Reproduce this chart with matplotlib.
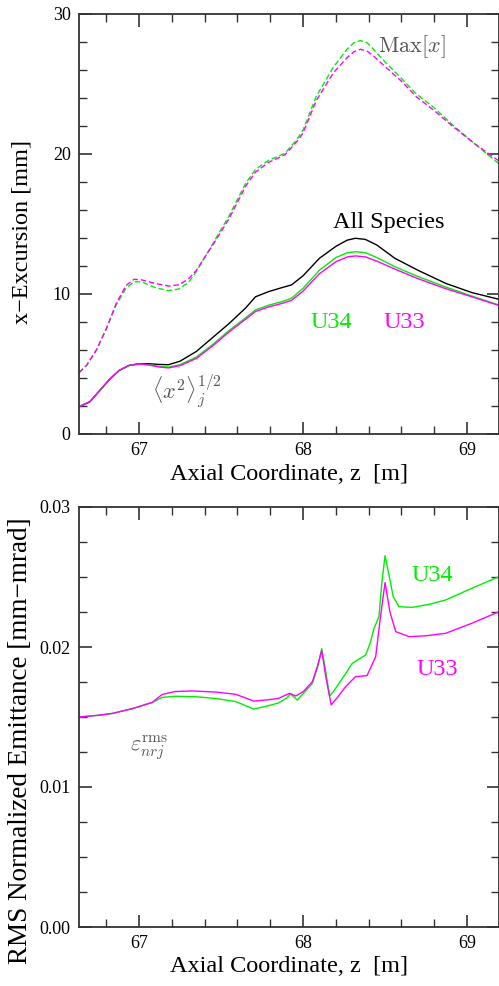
import numpy as np
import matplotlib
matplotlib.use("Agg")
import matplotlib.pyplot as plt
from matplotlib.ticker import MultipleLocator, FormatStrFormatter

plt.rcParams['font.family'] = ['Liberation Serif', 'DejaVu Serif']
plt.rcParams['mathtext.fontset'] = 'cm'

GREEN = '#00ee00'
MAGENTA = '#ff00ff'
GRAY = '#555555'

# top panel: rms and max x-excursion [mm]
z_rms = [66.634, 66.70, 66.76, 66.82, 66.88, 66.94, 67.00, 67.06, 67.12, 67.18, 67.25,
         67.35, 67.45, 67.55, 67.65, 67.71, 67.79, 67.87, 67.93, 68.00, 68.10, 68.20,
         68.27, 68.32, 68.38, 68.45, 68.56, 68.70, 68.87, 69.03, 69.195]
rms_all = [1.95, 2.3, 3.1, 3.9, 4.55, 4.9, 5.02, 5.02, 4.97, 4.95, 5.2, 5.9, 6.9, 7.9,
           9.0, 9.8, 10.17, 10.45, 10.65, 11.3, 12.55, 13.4, 13.85, 13.98, 13.9, 13.5,
           12.55, 11.7, 10.76, 10.1, 9.62]
rms_u34 = [1.95, 2.3, 3.1, 3.9, 4.55, 4.9, 5.0, 4.95, 4.83, 4.78, 4.95, 5.5, 6.4, 7.4,
           8.3, 8.86, 9.2, 9.45, 9.7, 10.4, 11.7, 12.6, 12.95, 13.02, 12.95, 12.6,
           11.95, 11.25, 10.5, 9.85, 9.21]
rms_u33 = [1.95, 2.3, 3.1, 3.9, 4.55, 4.9, 5.0, 4.93, 4.79, 4.72, 4.88, 5.4, 6.3, 7.3,
           8.2, 8.75, 9.08, 9.32, 9.55, 10.2, 11.45, 12.3, 12.65, 12.72, 12.65, 12.35,
           11.78, 11.1, 10.38, 9.8, 9.18]

z_max = [66.634, 66.68, 66.74, 66.80, 66.86, 66.92, 66.97, 67.02, 67.10, 67.18, 67.24,
         67.30, 67.35, 67.45, 67.55, 67.65, 67.71, 67.79, 67.89, 67.96, 68.00, 68.08,
         68.185, 68.27, 68.31, 68.35, 68.39, 68.42, 68.49, 68.60, 68.69, 68.80, 68.90,
         69.05, 69.195]
max_u34 = [4.38, 4.9, 6.0, 7.5, 9.2, 10.4, 10.88, 10.85, 10.45, 10.24, 10.35, 10.8, 11.6,
           13.6, 15.6, 17.9, 18.9, 19.55, 20.05, 21.0, 21.7, 24.1, 26.2, 27.5, 27.95,
           28.1, 27.95, 27.6, 26.7, 25.4, 24.3, 23.3, 22.2, 20.7, 19.3]
max_u33 = [4.38, 4.9, 6.0, 7.5, 9.3, 10.6, 11.05, 11.0, 10.75, 10.57, 10.65, 11.05, 11.7,
           13.5, 15.4, 17.7, 18.7, 19.4, 19.95, 20.85, 21.5, 23.8, 25.8, 26.9, 27.3,
           27.48, 27.35, 27.1, 26.36, 25.2, 24.1, 23.1, 22.1, 20.7, 19.5]

# bottom panel: rms normalized emittance [mm-mrad]
z_em34 = [66.634, 66.75, 66.84, 66.96, 67.08, 67.14, 67.22, 67.345, 67.47, 67.59, 67.70,
          67.78, 67.85, 67.90, 67.925, 67.965, 68.00, 68.057, 68.09, 68.114, 68.135,
          68.162, 68.19, 68.219, 68.26, 68.30, 68.35, 68.382, 68.41, 68.433, 68.463,
          68.48, 68.50, 68.52, 68.55, 68.585, 68.667, 68.77, 68.87, 69.03, 69.195]
em_u34 = [0.0150, 0.01512, 0.01526, 0.0156, 0.01602, 0.0164, 0.01648, 0.01645, 0.01632,
          0.0161, 0.01557, 0.01578, 0.0160, 0.01635, 0.01664, 0.01621, 0.01665, 0.0174,
          0.0186, 0.01988, 0.0185, 0.0165, 0.0169, 0.0174, 0.0181, 0.01883, 0.0192,
          0.01943, 0.0203, 0.02133, 0.02217, 0.0245, 0.02652, 0.0254, 0.0236, 0.02288,
          0.02283, 0.02305, 0.02336, 0.0242, 0.02502]
z_em33 = [66.634, 66.75, 66.84, 66.96, 67.08, 67.14, 67.22, 67.325, 67.47, 67.59, 67.70,
          67.78, 67.85, 67.918, 67.955, 68.00, 68.057, 68.09, 68.114, 68.14, 68.172,
          68.21, 68.26, 68.32, 68.365, 68.39, 68.443, 68.47, 68.50, 68.53, 68.565,
          68.646, 68.75, 68.87, 69.03, 69.195]
em_u33 = [0.0150, 0.01512, 0.01526, 0.0156, 0.01605, 0.0166, 0.01682, 0.01686, 0.01678,
          0.01662, 0.01614, 0.01622, 0.01633, 0.01669, 0.0165, 0.0168, 0.01752, 0.0187,
          0.01974, 0.0178, 0.01586, 0.0164, 0.01717, 0.01788, 0.01793, 0.01795, 0.01931,
          0.02193, 0.0246, 0.0225, 0.0211, 0.02074, 0.0208, 0.02098, 0.0217, 0.02252]

fig = plt.figure(figsize=(4.99, 9.86), dpi=100)
ax1 = fig.add_axes([79/499, 1-434/986, 420/499, 420/986])
ax2 = fig.add_axes([79/499, 1-927/986, 420/499, 420/986])


def style(ax):
    ax.set_xlim(66.634, 69.195)
    ax.xaxis.set_major_locator(MultipleLocator(1))
    ax.xaxis.set_minor_locator(MultipleLocator(0.2))
    ax.tick_params(which='both', direction='in', top=True, right=True, labelsize=13,
                   color='#333333', pad=6)
    ax.tick_params(which='major', length=9, width=1.2)
    ax.tick_params(which='minor', length=6, width=1.0)
    for s in ax.spines.values():
        s.set_color('#333333')
        s.set_linewidth(1.3)
    ax.set_xlabel('Axial Coordinate, z  [m]', fontsize=17.5, labelpad=3)


ax1.plot(z_max, max_u34, color=GREEN, lw=1, dashes=(4, 2))
ax1.plot(z_max, max_u33, color=MAGENTA, lw=1, dashes=(4, 2))
ax1.plot(z_rms, rms_all, color='black', lw=1)
ax1.plot(z_rms, rms_u34, color=GREEN, lw=1)
ax1.plot(z_rms, rms_u33, color=MAGENTA, lw=1)
style(ax1)
ax1.set_ylim(0, 30)
ax1.yaxis.set_major_locator(MultipleLocator(10))
ax1.yaxis.set_minor_locator(MultipleLocator(2))
ax1.set_ylabel('x\u2212Excursion [mm]', fontsize=17.5)
ax1.yaxis.set_label_coords(-0.11, 0.481)
ax1.text(68.457, 27.7, r'$\mathrm{Max}[x]$', color=GRAY, fontsize=16, va='center')
ax1.text(68.524, 15.14, 'All Species', color='black', fontsize=17.5, ha='center', va='center')
ax1.text(68.17, 7.93, 'U34', color=GREEN, fontsize=17.5, ha='center', va='center')
ax1.text(68.616, 7.93, 'U33', color=MAGENTA, fontsize=17.5, ha='center', va='center')
ax1.text(67.29, 3.07, r'$\langle x^2\rangle_j^{1/2}$', color=GRAY, fontsize=16,
         ha='center', va='center')

ax2.plot(z_em34, em_u34, color=GREEN, lw=1)
ax2.plot(z_em33, em_u33, color=MAGENTA, lw=1)
style(ax2)
ax2.set_ylim(0, 0.03)
ax2.yaxis.set_major_locator(MultipleLocator(0.01))
ax2.yaxis.set_minor_locator(MultipleLocator(0.0025))
ax2.yaxis.set_major_formatter(FormatStrFormatter('%.2f'))
ax2.set_ylabel('RMS Normalized Emittance [mm\u2212mrad]', fontsize=19.5)
ax2.yaxis.set_label_coords(-0.11, 0.443)
ax2.text(68.79, 0.0251, 'U34', color=GREEN, fontsize=17.5, ha='center', va='center')
ax2.text(68.817, 0.01836, 'U33', color=MAGENTA, fontsize=17.5, ha='center', va='center')
ax2.text(67.06, 0.0128, r'$\varepsilon_{nrj}^{\mathrm{rms}}$', color=GRAY, fontsize=16,
         ha='center', va='center')

fig.savefig('out.png', dpi=100)
